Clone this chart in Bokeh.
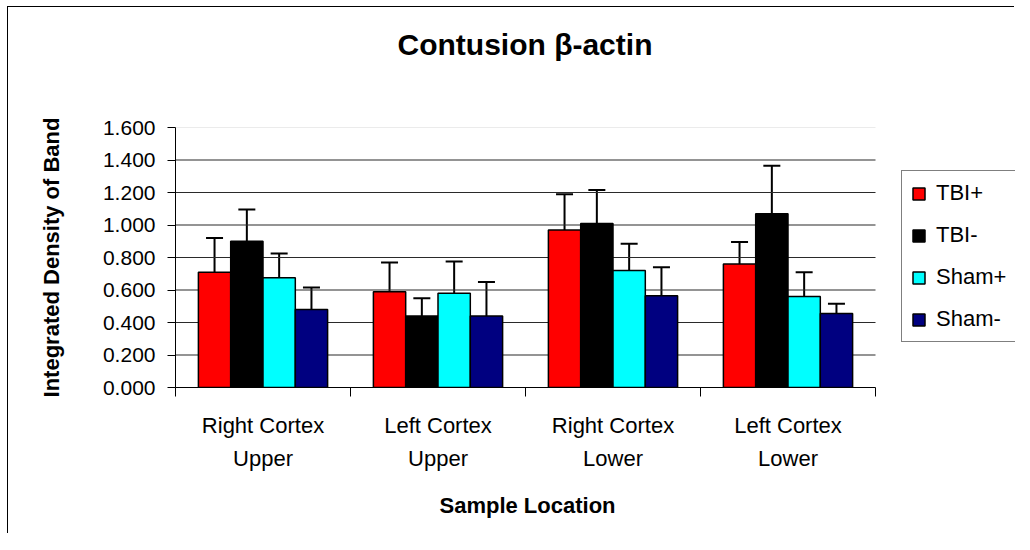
import numpy as np
from bokeh.plotting import figure
from bokeh.models import (Range1d, FixedTicker, NumeralTickFormatter, ColumnDataSource,
                          Whisker, TeeHead, Legend, LegendItem, Title)
from bokeh.embed import file_html
from bokeh.resources import INLINE

# ---------------- data ----------------
categories = ["Right Cortex\nUpper", "Left Cortex\nUpper", "Right Cortex\nLower", "Left Cortex\nLower"]
series_names = ["TBI+", "TBI-", "Sham+", "Sham-"]
tbi_plus = [0.71, 0.59, 0.97, 0.76]
tbi_plus_err = [0.21, 0.18, 0.22, 0.135]
tbi_minus = [0.90, 0.44, 1.01, 1.07]
tbi_minus_err = [0.195, 0.11, 0.205, 0.295]
sham_plus = [0.675, 0.58, 0.72, 0.56]
sham_plus_err = [0.15, 0.195, 0.165, 0.15]
sham_minus = [0.48, 0.44, 0.565, 0.455]
sham_minus_err = [0.135, 0.21, 0.175, 0.06]
y_ticks = [0.0, 0.2, 0.4, 0.6, 0.8, 1.0, 1.2, 1.4, 1.6]
chart_title = "Contusion \u03b2-actin"
x_title = "Sample Location"
y_title = "Integrated Density of Band"

values = [tbi_plus, tbi_minus, sham_plus, sham_minus]
errors = [tbi_plus_err, tbi_minus_err, sham_plus_err, sham_minus_err]
colors = ["#FF0000", "#000000", "#00FFFF", "#000080"]

FONT = "Liberation Sans"
n_cat = len(categories)
bar_w = 0.1846
centers = np.arange(n_cat) + 0.5
x_end = n_cat * 1.2   # room on the right of the plot area for the legend

p = figure(width=1007, height=527, output_backend="svg", toolbar_location=None, title=None,
           x_range=Range1d(0, x_end), y_range=Range1d(0, 1.6),
           min_border_left=167, min_border_right=0, min_border_top=120, min_border_bottom=147)
p.styles = {"border-left": "1px solid #000000", "border-top": "1px solid #000000",
            "border-right": "0px none", "border-bottom": "0px none",
            "margin-left": "7px", "margin-top": "6px"}
p.outline_line_color = None
p.background_fill_color = "white"
p.border_fill_color = "white"

# title (a blank spacer title sits between the title and the plot area)
p.add_layout(Title(text=" ", text_font=FONT, text_font_size="20px", standoff=43), "above")
p.add_layout(Title(text=chart_title, text_font=FONT, text_font_size="30px", text_font_style="bold",
                   text_color="#000000", align="left", offset=222, standoff=0), "above")

# grid lines limited to the category area
p.xgrid.visible = False
p.ygrid.visible = False
inner = y_ticks[1:-1]
p.segment(x0=[0] * len(inner), x1=[n_cat] * len(inner), y0=inner, y1=inner,
          line_color="#2a2a2a", line_width=1.2)
p.segment(x0=[0], x1=[n_cat], y0=[y_ticks[-1]], y1=[y_ticks[-1]],
          line_color="#d8d8d8", line_width=1.2)

# bars
items = []
for k, (vals, errs, col, name) in enumerate(zip(values, errors, colors, series_names)):
    xs = centers + (k - 1.5) * bar_w
    src = ColumnDataSource(dict(x=xs, top=vals, err_top=np.array(vals) + np.array(errs)))
    r = p.vbar(x="x", top="top", width=bar_w, source=src, fill_color=col,
               line_color="#000000", line_width=1.5)
    w = Whisker(source=src, base="x", lower="top", upper="err_top", dimension="height",
                line_color="#000000", line_width=2, lower_head=None,
                upper_head=TeeHead(size=17, line_color="#000000", line_width=2))
    p.add_layout(w)
    items.append(LegendItem(label=name, renderers=[r]))

# y axis
p.yaxis.ticker = FixedTicker(ticks=y_ticks)
p.yaxis.formatter = NumeralTickFormatter(format="0.000")
p.yaxis.major_label_text_font = FONT
p.yaxis.major_label_text_font_size = "21px"
p.yaxis.major_label_text_color = "#000000"
p.yaxis.major_tick_in = 0
p.yaxis.major_tick_out = 8
p.yaxis.minor_tick_line_color = None
p.yaxis.major_tick_line_color = "#000000"
p.yaxis.axis_line_color = "#000000"
p.yaxis.major_label_standoff = 12
p.yaxis.axis_label = y_title
p.yaxis.axis_label_text_font = FONT
p.yaxis.axis_label_text_font_size = "22px"
p.yaxis.axis_label_text_font_style = "bold"
p.yaxis.axis_label_text_color = "#000000"
p.yaxis.axis_label_standoff = 36

# x axis
p.xaxis.bounds = (0, n_cat)
p.xaxis.ticker = FixedTicker(ticks=list(centers), minor_ticks=list(range(n_cat + 1)))
p.xaxis.major_label_overrides = {float(c): lab for c, lab in zip(centers, categories)}
p.xaxis.major_label_text_font = FONT
p.xaxis.major_label_text_font_size = "22px"
p.xaxis.major_label_text_color = "#000000"
p.xaxis.major_label_text_line_height = 1.35
p.xaxis.major_tick_line_color = None
p.xaxis.minor_tick_in = 0
p.xaxis.minor_tick_out = 9
p.xaxis.minor_tick_line_color = "#000000"
p.xaxis.axis_line_color = "#000000"
p.xaxis.major_label_standoff = 16
# x-axis title, centred under the category area
p.add_layout(Title(text=x_title, text_font=FONT, text_font_size="22px", text_font_style="bold",
                   text_color="#000000", align="left", offset=264, standoff=32), "below")

# legend
legend = Legend(items=items, location=(726, 45), orientation="vertical")
legend.label_text_font = FONT
legend.label_text_font_size = "22px"
legend.label_text_color = "#000000"
legend.glyph_width = 15
legend.glyph_height = 15
legend.label_standoff = 10
legend.spacing = 16
legend.padding = 9
legend.margin = 0
legend.border_line_color = "#000000"
legend.border_line_width = 1
legend.background_fill_color = "white"
legend.background_fill_alpha = 1
p.add_layout(legend)

open("out.html", "w").write(file_html(p, INLINE))
